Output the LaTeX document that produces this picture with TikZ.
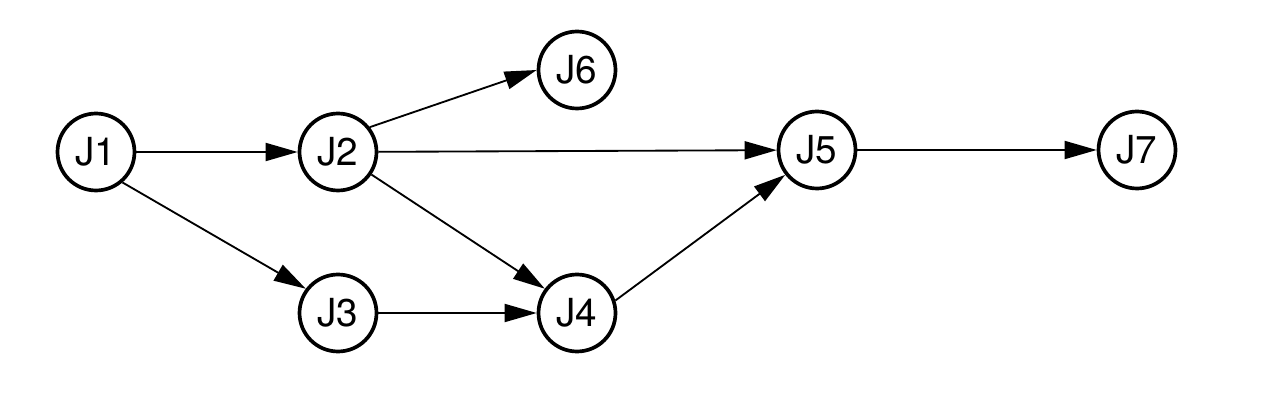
\documentclass[tikz,border=0pt]{standalone}
\usepackage{fontspec}
\setmainfont{TeX Gyre Heros}
\usetikzlibrary{arrows.meta}
\begin{document}
\begin{tikzpicture}[x=0.02cm,y=-0.02cm,
  job/.style={circle,draw,line width=2.1pt,minimum size=1.54cm,inner sep=0pt,font=\fontsize{22}{26}\selectfont},
  link/.style={line width=1.05pt,-{Triangle[length=0.64cm,width=0.36cm]}}]
\useasboundingbox (0,0) rectangle (1266,408);
\node[job] (J1) at (96,152) {J1};
\node[job] (J2) at (338,152) {J2};
\node[job] (J3) at (338,313) {J3};
\node[job] (J4) at (577,313) {J4};
\node[job] (J5) at (817,150) {J5};
\node[job] (J6) at (577,70) {J6};
\node[job] (J7) at (1137,150) {J7};
\draw[link] (J1) -- (J2);
\draw[link] (J1.-49) -- (J3.143);
\draw[link] (J2.38) -- (J6.180);
\draw[link] (J2) -- (J5);
\draw[link] (J2.-34) -- (J4.143);
\draw[link] (J3) -- (J4);
\draw[link] (J4.18) -- (J5.-142);
\draw[link] (J5) -- (J7);
\end{tikzpicture}
\end{document}
